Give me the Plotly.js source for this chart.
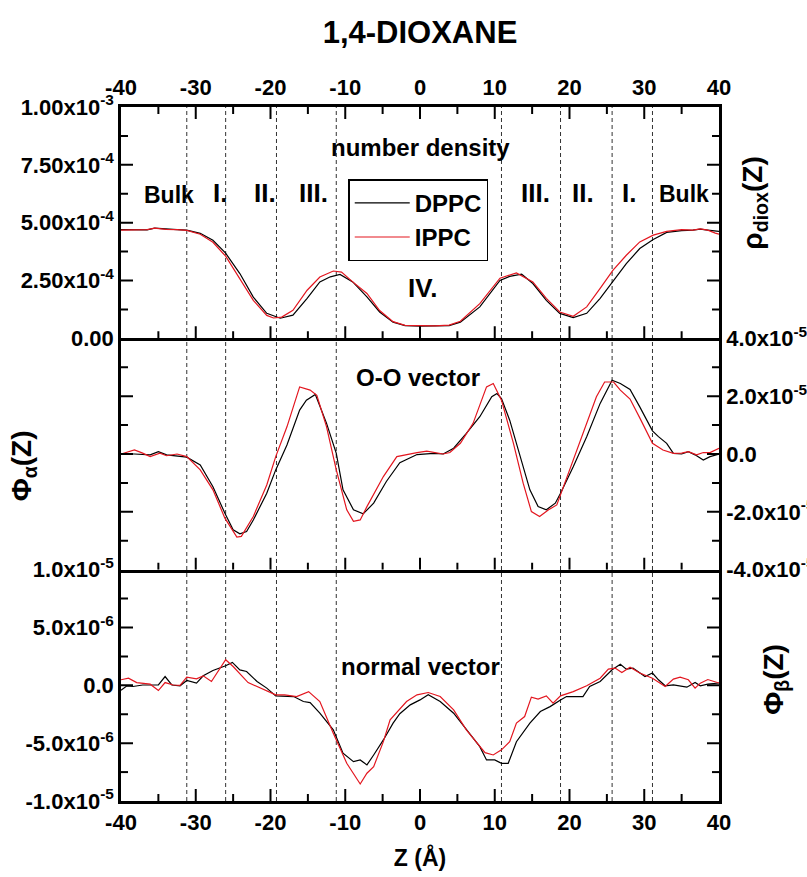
<!DOCTYPE html>
<html>
<head>
<meta charset="utf-8">
<script src="https://cdn.plot.ly/plotly-3.0.1.min.js"></script>
<style>html,body{margin:0;padding:0;background:#fff;}#chart{width:807px;height:877px;}</style>
</head>
<body>
<div id="chart"></div>
<script>
// ---------- data (z in Angstrom) ----------
const zRhoDPPC = [-40,-38,-36.5,-35.5,-34,-32.5,-31.2,-29.4,-27.7,-26,-24.1,-22.3,-20.5,-18.7,-17,-15.1,-13.4,-12,-10.7,-9,-7.1,-5.4,-3.6,-2,0,2,3.9,5.4,8,10.7,12,13.6,15.1,16.9,18.7,20.5,22.3,24.1,25.8,27.6,29.4,31.2,33,35,36.5,37.5,38.5,40];
const rhoDPPC = [4.70e-4,4.71e-4,4.69e-4,4.76e-4,4.72e-4,4.70e-4,4.68e-4,4.54e-4,4.24e-4,3.68e-4,2.80e-4,1.78e-4,1.08e-4,0.87e-4,1.00e-4,1.73e-4,2.44e-4,2.66e-4,2.76e-4,2.44e-4,1.79e-4,1.14e-4,0.70e-4,0.55e-4,0.53e-4,0.53e-4,0.55e-4,0.70e-4,1.36e-4,2.50e-4,2.68e-4,2.77e-4,2.37e-4,1.64e-4,1.08e-4,0.90e-4,1.08e-4,1.73e-4,2.44e-4,3.23e-4,3.88e-4,4.27e-4,4.58e-4,4.66e-4,4.68e-4,4.72e-4,4.68e-4,4.62e-4];
const zRhoIPPC = [-40,-38,-36.5,-35.5,-34,-32.5,-31.2,-29.4,-27.7,-26,-24.1,-22.3,-20.5,-19.6,-18.5,-17,-15.1,-13.4,-11.6,-10.5,-9,-7.1,-5.4,-3.6,-2,0,2,3.9,5.4,8,10.7,12.9,15.1,16.9,18.7,20.5,22.3,24.1,25.8,27.6,29.4,31.2,33,35,36.5,37.5,38.5,39.5,40];
const rhoIPPC = [4.68e-4,4.70e-4,4.70e-4,4.76e-4,4.71e-4,4.70e-4,4.67e-4,4.50e-4,4.15e-4,3.55e-4,2.60e-4,1.64e-4,0.99e-4,0.88e-4,0.92e-4,1.21e-4,2.08e-4,2.65e-4,2.91e-4,2.86e-4,2.44e-4,1.94e-4,1.20e-4,0.72e-4,0.56e-4,0.54e-4,0.54e-4,0.57e-4,0.74e-4,1.50e-4,2.60e-4,2.83e-4,2.44e-4,1.73e-4,1.14e-4,0.95e-4,1.36e-4,2.16e-4,2.94e-4,3.59e-4,4.17e-4,4.46e-4,4.62e-4,4.70e-4,4.68e-4,4.73e-4,4.68e-4,4.55e-4,4.50e-4];

const zOODPPC = [-40,-38.2,-36.1,-35,-33.9,-32.5,-31.2,-29.4,-27.7,-26.1,-25,-24.1,-23.2,-22.3,-20.5,-19.3,-17.8,-16.1,-15.2,-14,-12.5,-11.2,-10.3,-8.9,-7.6,-6.2,-4.5,-2.7,-0.4,1.8,3.1,4.5,6.2,8,9.6,10.3,10.9,12,13.4,14.7,15.8,16.9,18.1,18.8,20.5,22.3,24.1,25.7,26.8,28.1,29.4,31.1,31.9,33,33.9,35,35.9,36.8,37.9,38.8,40];
const ooDPPC = [0,0,-0.03e-5,0.08e-5,-0.03e-5,-0.07e-5,-0.11e-5,-0.38e-5,-1.13e-5,-2.05e-5,-2.62e-5,-2.76e-5,-2.68e-5,-2.28e-5,-1.36e-5,-0.55e-5,0.31e-5,1.52e-5,1.86e-5,2.06e-5,1.06e-5,0.02e-5,-1.24e-5,-1.93e-5,-2.07e-5,-1.70e-5,-0.95e-5,-0.30e-5,-0.02e-5,0.02e-5,0,0.20e-5,0.71e-5,1.29e-5,1.98e-5,2.09e-5,1.92e-5,1.17e-5,-0.09e-5,-1.24e-5,-1.82e-5,-1.93e-5,-1.70e-5,-1.36e-5,-0.44e-5,0.60e-5,1.75e-5,2.55e-5,2.44e-5,2.23e-5,1.63e-5,0.80e-5,0.60e-5,0.37e-5,0.02e-5,0,0.08e-5,-0.03e-5,-0.21e-5,-0.09e-5,0];
const zOOIPPC = [-40,-38.2,-37.1,-36.1,-34.8,-33.9,-32.5,-31.2,-29.4,-27.7,-26.1,-24.5,-23.9,-22.3,-20.5,-19.3,-17.8,-16.9,-16.1,-14.7,-13.8,-12.5,-11.2,-9.8,-8.9,-8,-7.1,-4.9,-3.1,-0.4,0.9,3.1,4,5.4,7.1,8.9,9.8,10.9,12.5,13.8,14.9,16,17.2,18.3,18.8,20.5,22.3,23.6,24.7,25.9,26.8,28.1,29.4,31.1,32.5,33.9,35,35.9,37,37.9,38.8,40];
const ooIPPC = [0,0.14e-5,0.03e-5,-0.09e-5,0.03e-5,-0.06e-5,0,-0.09e-5,-0.55e-5,-1.24e-5,-2.22e-5,-2.87e-5,-2.85e-5,-2.16e-5,-1.07e-5,-0.09e-5,0.94e-5,1.63e-5,2.32e-5,2.21e-5,2.03e-5,0.94e-5,-0.55e-5,-1.93e-5,-2.33e-5,-2.28e-5,-1.82e-5,-0.78e-5,-0.09e-5,0.05e-5,0.10e-5,0,0.05e-5,0.37e-5,1.06e-5,2.32e-5,2.44e-5,1.86e-5,0.37e-5,-1.01e-5,-1.99e-5,-2.16e-5,-1.93e-5,-1.76e-5,-1.41e-5,-0.21e-5,1.06e-5,1.98e-5,2.49e-5,2.49e-5,2.21e-5,1.90e-5,1.25e-5,0.37e-5,0.14e-5,0.02e-5,0.03e-5,0.08e-5,-0.03e-5,0.05e-5,0.05e-5,0.20e-5];

const zNVDPPC = [-40,-39.2,-38.4,-37.1,-35,-34.1,-33.2,-32.1,-31.2,-29.9,-29,-27.7,-26,-25.1,-24.1,-23.2,-21.8,-20.5,-19.3,-16.9,-15.6,-14.7,-13.4,-11.6,-10.3,-8.9,-8,-7.1,-6.2,-4.9,-3.6,-2.7,-1.3,0,1.1,2.7,4.5,6.2,8,8.9,10,10.9,11.8,12.9,14.7,16.1,17.4,18.8,19.6,21.8,22.7,24.1,25.7,26.8,27.6,28.5,30.1,31.1,31.9,32.8,33.9,35.7,36.8,37.5,38.5,40];
const nvDPPC = [-0.43e-6,-0.04e-6,-0.10e-6,0.03e-6,0.03e-6,0.76e-6,0.03e-6,-0.04e-6,0.42e-6,0.19e-6,0.82e-6,1.28e-6,1.69e-6,1.98e-6,1.34e-6,1.20e-6,0.33e-6,-0.24e-6,-0.91e-6,-0.97e-6,-1.40e-6,-1.49e-6,-2.41e-6,-3.85e-6,-5.87e-6,-6.60e-6,-6.45e-6,-6.88e-6,-6.02e-6,-4.72e-6,-3.27e-6,-2.45e-6,-1.69e-6,-1.26e-6,-0.82e-6,-1.40e-6,-2.41e-6,-3.85e-6,-5.30e-6,-6.45e-6,-6.45e-6,-6.74e-6,-6.74e-6,-4.87e-6,-3.27e-6,-2.27e-6,-1.84e-6,-1.26e-6,-0.97e-6,-0.97e-6,-0.10e-6,0.33e-6,1.34e-6,1.83e-6,1.40e-6,1.49e-6,0.76e-6,1.06e-6,0.48e-6,-0.04e-6,0.04e-6,-0.16e-6,0.24e-6,-0.04e-6,0.10e-6,0.20e-6];
const zNVIPPC = [-40,-39,-37.9,-36.1,-35,-34.1,-33,-32.1,-31.2,-29.9,-29,-27.9,-26,-25,-23,-21.4,-19.3,-18.1,-16.5,-14.9,-13.4,-11.6,-9.8,-8,-7.1,-6.2,-4.9,-4,-1.8,-0.4,1.1,2.7,4.5,6.2,7.6,8.7,9.8,10.9,12,12.9,14,14.9,15.8,16.9,17.8,18.8,20.5,22.3,24.1,25.2,26.1,27,28.1,29.4,31.1,32.8,33.9,34.8,35.9,36.8,37.5,38.5,40];
const nvIPPC = [0.48e-6,0.62e-6,0.24e-6,0.10e-6,-0.45e-6,0.24e-6,0.03e-6,0,0.71e-6,0.56e-6,0.82e-6,0.33e-6,2.21e-6,1.63e-6,0.24e-6,-0.24e-6,-0.82e-6,-0.82e-6,-0.97e-6,-0.54e-6,-1.40e-6,-4.14e-6,-6.74e-6,-8.53e-6,-7.60e-6,-7.03e-6,-4.87e-6,-2.99e-6,-1.40e-6,-0.82e-6,-0.62e-6,-0.97e-6,-2.12e-6,-3.85e-6,-5.00e-6,-5.82e-6,-6.02e-6,-5.58e-6,-4.87e-6,-3.27e-6,-2.70e-6,-1.02e-6,-1.19e-6,-0.91e-6,-1.54e-6,-0.91e-6,-0.54e-6,-0.04e-6,0.62e-6,1.40e-6,1.49e-6,1.11e-6,1.57e-6,1.06e-6,0.62e-6,-0.10e-6,0.54e-6,0.71e-6,0.48e-6,-0.24e-6,0.19e-6,0.50e-6,0.20e-6];

const boundaries = [-31.2,-26.0,-19.2,-11.2,10.9,18.8,25.7,31.1];

// tick labels and tick positions
const xTickVals = [-40,-30,-20,-10,0,10,20,30,40];
const xTickText = ['-40','-30','-20','-10','0','10','20','30','40'];
const xMinorVals = [-35,-25,-15,-5,5,15,25,35];
const rhoTickVals = [0,2.5e-4,5e-4,7.5e-4,1e-3];
const rhoTickText = ['0.00','2.50x10<sup>-4</sup>','5.00x10<sup>-4</sup>','7.50x10<sup>-4</sup>','1.00x10<sup>-3</sup>'];
const rhoMinorVals = [1.25e-4,3.75e-4,6.25e-4,8.75e-4];
const ooTickVals = [-4e-5,-2e-5,0,2e-5,4e-5];
const ooTickText = ['-4.0x10<sup>-5</sup>','-2.0x10<sup>-5</sup>','0.0','2.0x10<sup>-5</sup>','4.0x10<sup>-5</sup>'];
const ooMinorVals = [-3e-5,-1e-5,1e-5,3e-5];
const nvTickVals = [-1e-5,-5e-6,0,5e-6,1e-5];
const nvTickText = ['-1.0x10<sup>-5</sup>','-5.0x10<sup>-6</sup>','0.0','5.0x10<sup>-6</sup>','1.0x10<sup>-5</sup>'];
const nvMinorVals = [-7.5e-6,-2.5e-6,2.5e-6,7.5e-6];

const regionText = ['Bulk','I.','II.','III.','IV.','III.','II.','I.','Bulk'];
const regionZ = [-33.6,-26.7,-20.7,-14.3,0.3,15.5,21.8,27.9,35.3];
const regionY = [6.19e-4,6.28e-4,6.28e-4,6.28e-4,2.16e-4,6.28e-4,6.28e-4,6.28e-4,6.25e-4];

// ---------- styling ----------
const FAM = 'Liberation Sans, Arial, sans-serif';
const BLACK = '#000000', RED = '#e3161f';
const MAJ = 12, MIN = 7;              // tick lengths in px
const W = 807, H = 877, M = {l: 121, r: 88, t: 107, b: 76};
const PW = W - M.l - M.r, PH = (H - M.t - M.b) / 3;   // plot width, one panel height
const ZR = [-40, 40];
const bf = (s) => ({family: FAM, size: s, color: '#000', weight: 'bold'});

const traces = [
  {x: zRhoDPPC, y: rhoDPPC, xaxis: 'x3', yaxis: 'y3', mode: 'lines', name: 'DPPC', line: {color: BLACK, width: 1.2}},
  {x: zRhoIPPC, y: rhoIPPC, xaxis: 'x3', yaxis: 'y3', mode: 'lines', name: 'IPPC', line: {color: RED, width: 1.2}},
  {x: zOODPPC, y: ooDPPC, xaxis: 'x2', yaxis: 'y2', mode: 'lines', name: 'DPPC', showlegend: false, line: {color: BLACK, width: 1.2}},
  {x: zOOIPPC, y: ooIPPC, xaxis: 'x2', yaxis: 'y2', mode: 'lines', name: 'IPPC', showlegend: false, line: {color: RED, width: 1.2}},
  {x: zNVDPPC, y: nvDPPC, xaxis: 'x', yaxis: 'y', mode: 'lines', name: 'DPPC', showlegend: false, line: {color: BLACK, width: 1.2}},
  {x: zNVIPPC, y: nvIPPC, xaxis: 'x', yaxis: 'y', mode: 'lines', name: 'IPPC', showlegend: false, line: {color: RED, width: 1.2}}
];

// inward tick marks, drawn through each panel's own axes at the tick values
function tickTrace(xa, ya, yRange, xSides, ySides, yMaj, yMin) {
  const xs = [], ys = [];
  const span = yRange[1] - yRange[0];
  const xSet = xTickVals.slice(1, -1).map(v => [v, MAJ]).concat(xMinorVals.map(v => [v, MIN]));
  xSides.forEach(side => {
    const base = side === 0 ? yRange[0] : yRange[1];
    const dir = side === 0 ? 1 : -1;
    xSet.forEach(([v, len]) => { xs.push(v, v, null); ys.push(base, base + dir * len / PH * span, null); });
  });
  const ySet = yMaj.slice(1, -1).map(v => [v, MAJ]).concat(yMin.map(v => [v, MIN]));
  ySides.forEach(side => {
    const base = side === 0 ? ZR[0] : ZR[1];
    const dir = side === 0 ? 1 : -1;
    ySet.forEach(([v, len]) => { xs.push(base, base + dir * len / PW * (ZR[1] - ZR[0]), null); ys.push(v, v, null); });
  });
  return {x: xs, y: ys, xaxis: xa, yaxis: ya, mode: 'lines', showlegend: false, hoverinfo: 'skip',
          connectgaps: false, cliponaxis: false, line: {color: '#000', width: 2}};
}
traces.push(tickTrace('x3', 'y3', [0, 1e-3], [0, 1], [0, 1], rhoTickVals, rhoMinorVals));
traces.push(tickTrace('x2', 'y2', [-4e-5, 4e-5], [0], [0, 1], ooTickVals, ooMinorVals));
traces.push(tickTrace('x', 'y', [-1e-5, 1e-5], [0], [0, 1], nvTickVals, nvMinorVals));

const xCommon = {
  range: ZR, tickmode: 'array', tickvals: xTickVals, ticktext: xTickText, ticks: '',
  showline: true, linewidth: 2.5, linecolor: '#000', showgrid: false, zeroline: false,
  tickfont: bf(22), fixedrange: true
};
const yCommon = {
  ticks: '', showline: true, linewidth: 2.5, linecolor: '#000', showgrid: false, zeroline: false,
  tickfont: bf(22), tickmode: 'array', mirror: true, fixedrange: true
};

// dashed region boundaries
const shapes = boundaries.map(b => ({
  type: 'line', xref: 'x', yref: 'paper', x0: b, x1: b, y0: 0, y1: 1,
  line: {color: '#333', width: 1, dash: '4px,3px'}, layer: 'below'
}));

const annotations = [];
regionText.forEach((t, i) => annotations.push({
  text: t, x: regionZ[i], y: regionY[i], xref: 'x3', yref: 'y3', showarrow: false,
  xanchor: 'center', yanchor: 'middle', font: bf(t === 'Bulk' ? 23 : 26)
}));
const ann = (text, x, y, xref, yref, size, angle) => ({text, x, y, xref, yref, showarrow: false,
  xanchor: 'center', yanchor: 'middle', textangle: angle || 0, font: bf(size)});
annotations.push(ann('number density', 0, 8.23e-4, 'x3', 'y3', 24));
annotations.push(ann('O-O vector', -0.3, 2.66e-5, 'x2', 'y2', 24));
annotations.push(ann('normal vector', 0.1, 1.6e-6, 'x', 'y', 24));
annotations.push(ann('ρ<sub>diox</sub>(Z)', 1.06, 0.862, 'paper', 'paper', 28, -90));
annotations.push(ann('Φ<sub>α</sub>(Z)', -0.163, 0.483, 'paper', 'paper', 28, -90));
annotations.push(ann('Φ<sub>β</sub>(Z)', 1.094, 0.175, 'paper', 'paper', 28, -90));

const layout = {
  width: W, height: H,
  margin: M,
  font: {family: FAM, color: '#000'},
  title: {text: '1,4-DIOXANE', font: bf(31), x: 0.5, xref: 'paper', y: 1 - 32/877, yref: 'container', yanchor: 'middle'},
  showlegend: true,
  legend: {x: 0.38, y: 0.896, xanchor: 'left', yanchor: 'top', bgcolor: '#fff', bordercolor: '#000', borderwidth: 1.5,
           font: bf(24), itemwidth: 55, tracegroupgap: 0},
  xaxis: Object.assign({}, xCommon, {anchor: 'y', domain: [0, 1], mirror: false,
           title: {text: 'Z (Å)', font: bf(23), standoff: 16}}),
  xaxis2: Object.assign({}, xCommon, {anchor: 'y2', domain: [0, 1], mirror: false, showticklabels: false}),
  xaxis3: Object.assign({}, xCommon, {anchor: 'y3', domain: [0, 1], side: 'top', mirror: true, showticklabels: true}),
  yaxis: Object.assign({}, yCommon, {anchor: 'x', domain: [0, 1/3], range: [-1e-5, 1e-5], tickvals: nvTickVals, ticktext: nvTickText}),
  yaxis2: Object.assign({}, yCommon, {anchor: 'x2', domain: [1/3, 2/3], side: 'right', range: [-4e-5, 4e-5], tickvals: ooTickVals, ticktext: ooTickText}),
  yaxis3: Object.assign({}, yCommon, {anchor: 'x3', domain: [2/3, 1], range: [0, 1e-3], tickvals: rhoTickVals, ticktext: rhoTickText}),
  shapes: shapes,
  annotations: annotations
};

Plotly.newPlot('chart', traces, layout, {displayModeBar: false});
</script>
</body>
</html>
